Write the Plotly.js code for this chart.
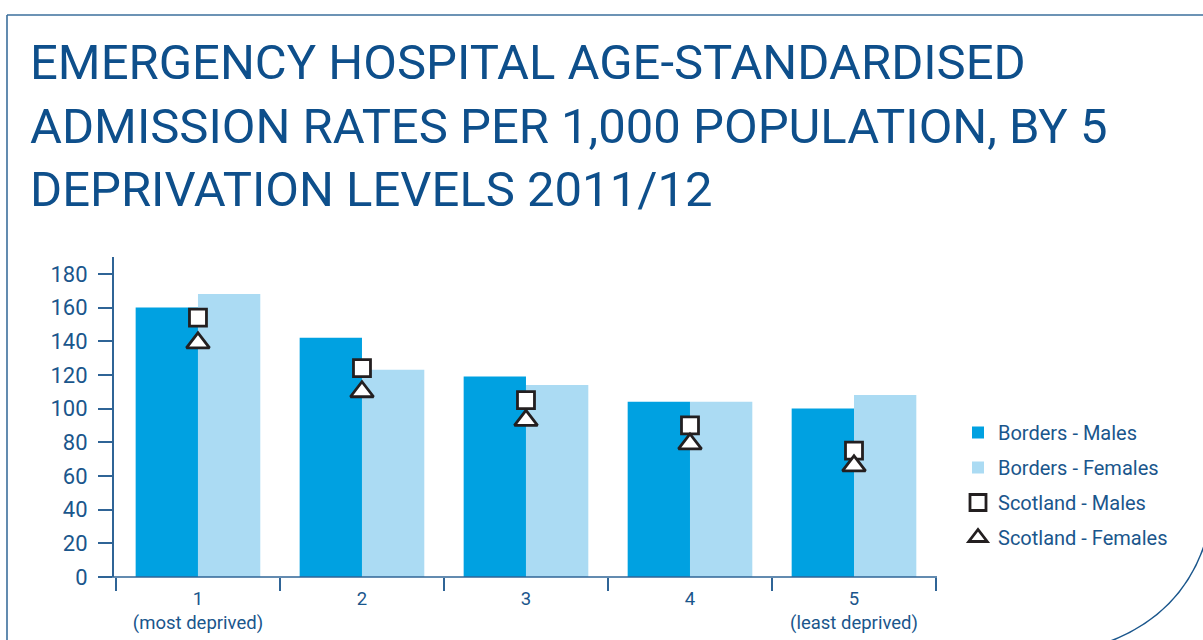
<!DOCTYPE html>
<html>
<head>
<meta charset="utf-8">
<script src="https://cdn.plot.ly/plotly-3.0.1.min.js"></script>
<style>html,body{margin:0;padding:0;background:#fff;}#chart{width:1203px;height:640px;}</style>
</head>
<body>
<div id="chart"></div>
<script>
var categories = ['1', '2', '3', '4', '5'];
var tickText = ['1<br>(most deprived)', '2', '3', '4', '5<br>(least deprived)'];
var yTicks = [0, 20, 40, 60, 80, 100, 120, 140, 160, 180];
var bordersMales = [160, 142, 119, 104, 100];
var bordersFemales = [168, 123, 114, 104, 108];
var scotlandMales = [154, 124, 105, 90, 75];
var scotlandFemales = [139, 110, 93, 79, 66];

var navy = '#1a568c';
var lineCol = '#2f6496';
var fontFam = 'Roboto, "Open Sans", sans-serif';

var W = 1203, H = 640, L = 114, R = 936, T = 257, B = 577;
function px(x) { return (x - L) / (R - L); }
function py(y) { return (B - y) / (B - T); }

var traces = [
  {type: 'bar', name: 'Borders - Males', x: categories, y: bordersMales,
   marker: {color: '#00a1e1'}, legendgroup: 'a', hoverinfo: 'y'},
  {type: 'bar', name: 'Borders - Females', x: categories, y: bordersFemales,
   marker: {color: '#abdbf3'}, legendgroup: 'b', hoverinfo: 'y'},
  {type: 'scatter', mode: 'markers', name: 'Scotland - Males', x: categories, y: scotlandMales,
   marker: {symbol: 'square', size: 17, color: '#ffffff', line: {color: '#231f20', width: 2.8}},
   legendgroup: 'c', hoverinfo: 'y'},
  {type: 'scatter', mode: 'markers', name: 'Scotland - Females', x: categories, y: scotlandFemales,
   marker: {symbol: 'triangle-up', size: 20, color: '#ffffff', line: {color: '#231f20', width: 2.8}},
   legendgroup: 'd', hoverinfo: 'y'}
];

var layout = {
  width: W, height: H,
  margin: {l: L, r: W - R, t: T, b: H - B, pad: 0},
  paper_bgcolor: '#ffffff', plot_bgcolor: '#ffffff',
  font: {family: fontFam, color: navy},
  title: {
    text: 'EMERGENCY HOSPITAL AGE-STANDARDISED<br>ADMISSION RATES PER 1,000 POPULATION, BY 5<br>DEPRIVATION LEVELS 2011/12',
    font: {family: fontFam, size: 49, color: '#0e4f8b'},
    x: 30 / W, xanchor: 'left', xref: 'container',
    y: 1 - 79 / H, yanchor: 'top', yref: 'container'
  },
  barmode: 'group',
  bargap: 0.24,
  bargroupgap: 0,
  showlegend: true,
  legend: {
    x: px(958), y: py(413), xanchor: 'left', yanchor: 'top',
    font: {family: fontFam, size: 20, color: navy},
    traceorder: 'grouped', tracegroupgap: 6,
    bgcolor: 'rgba(0,0,0,0)', itemwidth: 30
  },
  xaxis: {
    type: 'category',
    range: [-0.512, 4.5],
    tickvals: categories, ticktext: tickText,
    tickson: 'boundaries',
    ticks: 'outside', ticklen: 13, tickwidth: 1.6, tickcolor: lineCol,
    showline: false, showgrid: false, zeroline: false,
    ticklabelstandoff: 8,
    tickfont: {family: fontFam, size: 18.5, color: navy},
    fixedrange: true
  },
  yaxis: {
    range: [0, 190],
    tickvals: yTicks,
    ticks: 'outside', ticklen: 14, tickwidth: 1.6, tickcolor: lineCol,
    showline: true, linecolor: lineCol, linewidth: 2,
    showgrid: false, zeroline: false,
    ticklabelstandoff: 6,
    tickfont: {family: fontFam, size: 22, color: navy},
    fixedrange: true
  },
  shapes: [
    {type: 'line', xref: 'paper', yref: 'paper', x0: px(100), x1: px(937), y0: 0, y1: 0,
     line: {color: lineCol, width: 1.6}},
    {type: 'line', xref: 'paper', yref: 'paper', x0: px(7), x1: px(1210), y0: py(15), y1: py(15),
     line: {color: '#3b6f9c', width: 1.6}},
    {type: 'line', xref: 'paper', yref: 'paper', x0: px(7), x1: px(7), y0: py(15), y1: py(650),
     line: {color: '#3b6f9c', width: 1.6}},
    {type: 'path', xref: 'paper', yref: 'paper',
     path: 'M ' + px(1108) + ' ' + py(642) + ' Q ' + px(1180) + ' ' + py(615) + ' ' + px(1204) + ' ' + py(546),
     line: {color: '#1a568c', width: 1.6}}
  ]
};

Plotly.newPlot('chart', traces, layout, {displayModeBar: false, staticPlot: false});
</script>
</body>
</html>
